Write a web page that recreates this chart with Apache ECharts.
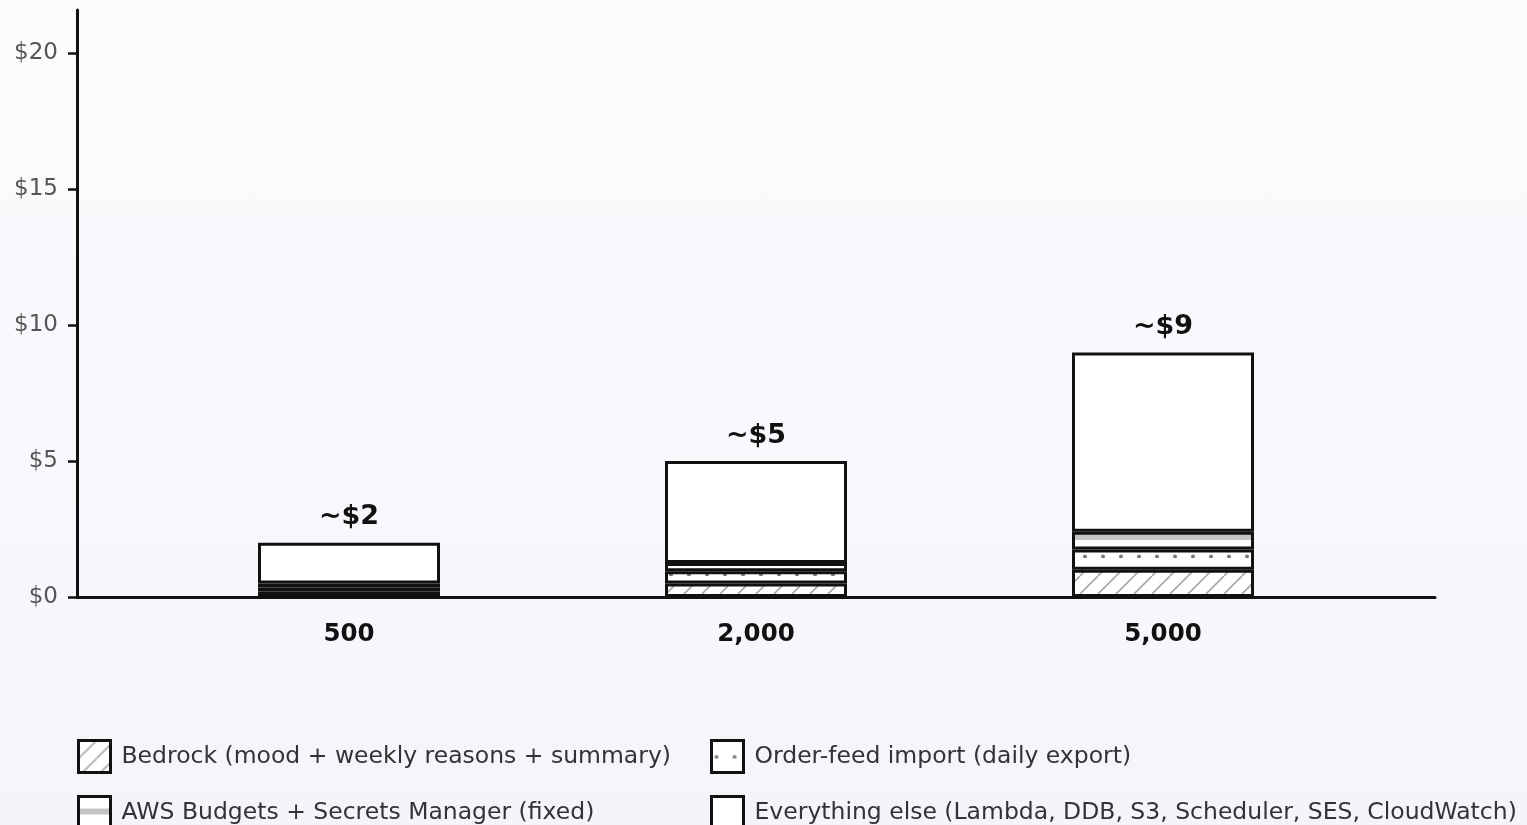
<!DOCTYPE html>
<html>
<head>
<meta charset="utf-8">
<script src="https://cdn.jsdelivr.net/npm/echarts@6/dist/echarts.min.js"></script>
<style>
  html, body { margin: 0; padding: 0; }
  body { background: linear-gradient(180deg, #fcfcfe 0%, #f4f4fb 100%); }
  #chart { width: 1527px; height: 825px; }
</style>
</head>
<body>
<div id="chart"></div>
<script>
// Monthly cost by number of users, split by cost driver
const categories = ['500', '2,000', '5,000'];
const totals = [2, 5, 9];
const bedrock = [0.2, 0.5, 1.0];
const orderFeed = [0.15, 0.45, 0.75];
const awsFixed = [0.15, 0.3, 0.65];
const everythingElse = [1.5, 3.75, 6.6];
const yTicks = [0, 5, 10, 15, 20];

const seriesNames = [
  'Bedrock (mood + weekly reasons + summary)',
  'Order-feed import (daily export)',
  'AWS Budgets + Secrets Manager (fixed)',
  'Everything else (Lambda, DDB, S3, Scheduler, SES, CloudWatch)'
];

const FONT = 'DejaVu Sans';
const Y_MAX = 21.6;

// Hatch fills drawn on small repeating tiles
function tile(draw) {
  const c = document.createElement('canvas');
  c.width = 18; c.height = 18;
  const g = c.getContext('2d');
  g.fillStyle = '#ffffff';
  g.fillRect(0, 0, 18, 18);
  draw(g);
  return { image: c, repeat: 'repeat' };
}
const diagonal = tile(g => {
  g.strokeStyle = '#a8a8a8';
  g.lineWidth = 1.6;
  for (const o of [-18, 0, 18]) {
    g.beginPath();
    g.moveTo(o, 18);
    g.lineTo(o + 18, 0);
    g.stroke();
  }
});
const dots = tile(g => {
  g.fillStyle = '#7a7a7a';
  g.beginPath();
  g.arc(5, 16.5, 2, 0, Math.PI * 2);
  g.fill();
});
const stripes = tile(g => {
  g.fillStyle = '#c4c4c4';
  g.fillRect(0, 12, 18, 6);
});

const fills = [diagonal, dots, stripes, '#ffffff'];
const values = [bedrock, orderFeed, awsFixed, everythingElse];

const series = seriesNames.map((name, i) => ({
  name,
  type: 'bar',
  stack: 'cost',
  xAxisIndex: 1,
  yAxisIndex: 1,
  barWidth: 182,
  itemStyle: { color: fills[i], borderColor: '#111111', borderWidth: 3 },
  emphasis: { disabled: true },
  data: values[i],
  label: i === 3 ? {
    show: true,
    position: 'top',
    distance: 12,
    formatter: p => '~$' + totals[p.dataIndex],
    fontFamily: FONT,
    fontWeight: 'bold',
    fontSize: 27,
    color: '#111111'
  } : { show: false }
}));

const legendCommon = {
  orient: 'vertical',
  height: 120,
  padding: 0,
  itemWidth: 32,
  itemHeight: 32,
  itemGap: 21,
  icon: 'rect',
  selectedMode: false,
  itemStyle: { borderColor: '#111111', borderWidth: 3 },
  textStyle: { fontFamily: FONT, fontSize: 23.5, color: '#333333', padding: [0, 0, 0, 6] }
};

const chart = echarts.init(document.getElementById('chart'), null, { renderer: 'canvas' });
chart.setOption({
  backgroundColor: 'transparent',
  animation: false,
  grid: [
    // frame: carries the axis lines and the dollar scale
    { left: 77, right: 92, top: 10, bottom: 228 },
    // bars: three bands centred inside the frame
    { left: 145.5, right: 160.5, top: 10, bottom: 228 }
  ],
  xAxis: [
    {
      gridIndex: 0,
      type: 'value',
      min: 0,
      max: 1,
      splitLine: { show: false },
      axisTick: { show: false },
      axisLabel: { show: false },
      axisLine: { show: true, onZero: false, lineStyle: { color: '#111111', width: 3 } }
    },
    {
      gridIndex: 1,
      type: 'category',
      data: categories,
      axisLine: { show: false },
      axisTick: { show: false },
      axisLabel: {
        margin: 25,
        fontFamily: FONT,
        fontWeight: 'bold',
        fontSize: 24.5,
        color: '#111111'
      }
    }
  ],
  yAxis: [
    {
      gridIndex: 0,
      type: 'value',
      min: 0,
      max: Y_MAX,
      splitLine: { show: false },
      axisLine: { show: true, onZero: false, lineStyle: { color: '#111111', width: 3 } },
      axisTick: { show: true, length: 9, customValues: yTicks, lineStyle: { color: '#111111', width: 2.5 } },
      axisLabel: {
        customValues: yTicks,
        formatter: v => '$' + v,
        margin: 19,
        fontFamily: FONT,
        fontSize: 23,
        color: '#555555'
      }
    },
    {
      gridIndex: 1,
      type: 'value',
      min: 0,
      max: Y_MAX,
      show: false,
      splitLine: { show: false }
    }
  ],
  legend: [
    Object.assign({ left: 77, top: 739, data: [seriesNames[0], seriesNames[2]] }, legendCommon),
    Object.assign({ left: 710, top: 739, data: [seriesNames[1], seriesNames[3]] }, legendCommon)
  ],
  series
});
</script>
</body>
</html>
